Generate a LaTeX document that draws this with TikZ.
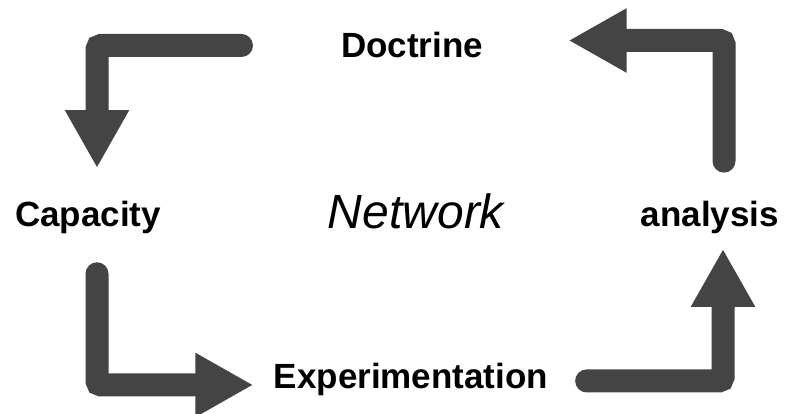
\documentclass[tikz,border=0pt]{standalone}
\usepackage{fontspec}
\setmainfont{Liberation Sans}
\usepackage{xcolor}
\usepackage{tikz}
\usetikzlibrary{arrows.meta, calc}
\definecolor{arrowgray}{RGB}{68,68,68}

\begin{document}
\begin{tikzpicture}[x=1pt, y=1pt,
  lbl/.style={anchor=base, font=\fontsize{35}{40}\selectfont\bfseries},
  bigarrow/.style={draw=arrowgray, line width=23pt, line cap=round, rounded corners=4pt,
    -{Triangle[length=58pt, width=60pt]}}]
  \useasboundingbox (0,0) rectangle (788,413);
  \node[lbl] (Doc) at (412, 355) {Doctrine};
  \node[lbl] (Cap) at (88, 186) {Capacity};
  \node[lbl] (Ana) at (710, 186) {analysis};
  \node[lbl] (Exp) at (411, 25) {Experimentation};
  \node[anchor=base, font=\fontsize{48}{54}\selectfont\itshape] (Net) at (416, 184) {Network};
  \draw[bigarrow] ([xshift=-96pt]Doc.west) -| ([xshift=9pt, yshift=30pt]Cap.north);
  \draw[bigarrow] ([xshift=9pt, yshift=-36pt]Cap.south) |- ([xshift=-17pt, yshift=-6pt]Exp.west);
  \draw[bigarrow] ([xshift=35pt, yshift=-2pt]Exp.east) -| ([xshift=13pt, yshift=-11pt]Ana.south);
  \draw[bigarrow] ([xshift=14pt, yshift=37pt]Ana.north) |- ([xshift=82pt, yshift=5pt]Doc.east);
\end{tikzpicture}
\end{document}
